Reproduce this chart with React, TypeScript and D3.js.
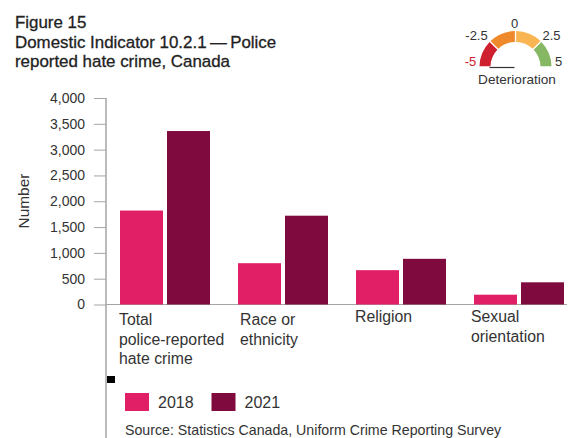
import { useEffect, useRef } from 'react';
import * as d3 from 'd3';

const categories = ['Total', 'Race', 'Religion', 'Sexual'];
const categoryLines = [
  ['Total', 'police-reported', 'hate crime'],
  ['Race or', 'ethnicity'],
  ['Religion'],
  ['Sexual', 'orientation'],
];
const labelOffsets = [-1, 2, -1, -3];
const labelTops = [325, 325, 322, 322];
const years = ['2018', '2021'];
const values2018 = [1820, 800, 665, 190];
const values2021 = [3360, 1720, 885, 430];
const yTicks = [0, 500, 1000, 1500, 2000, 2500, 3000, 3500, 4000];
const titleLines = ['Figure 15', 'Domestic Indicator 10.2.1\u2009\u2014\u2009Police', 'reported hate crime, Canada'];
const gaugeStops = [-5, -2.5, 0, 2.5, 5];
const gaugeColors = ['#cf2030', '#ee8a2c', '#f8b552', '#86b863'];
const gaugeLabels = ['-5', '-2.5', '0', '2.5', '5'];

const FONT = '"Liberation Sans", Arial, sans-serif';
const TEXT = '#333';
const AXIS = '#a5a5a5';
const colors = ['#e01f66', '#7e0a3e'];

export default function App() {
  const svgRef = useRef<SVGSVGElement>(null);

  useEffect(() => {
    const svg = d3.select(svgRef.current);
    svg.selectAll('*').remove();
    svg.attr('font-family', FONT);

    // Title
    svg
      .append('g')
      .selectAll('text')
      .data(titleLines)
      .join('text')
      .attr('x', 15)
      .attr('y', (_, i) => 28 + i * 19.5)
      .attr('font-size', 16.9)
      .attr('stroke', '#222')
      .attr('stroke-width', 0.3)
      .attr('fill', '#222')
      .text((d) => d);

    const x = d3.scaleBand<string>().domain(categories).range([120, 564]).paddingInner(28 / 118);
    const xInner = d3.scaleBand<string>().domain(years).range([0, x.bandwidth()]).paddingInner(4 / 47);
    const y = d3.scaleLinear().domain([0, 4000]).range([304.5, 98]);

    // Y axis, the line carries on down past the zero tick
    const yAxis = svg
      .append('g')
      .attr('transform', 'translate(106,0)')
      .call(
        d3
          .axisLeft(y)
          .tickValues(yTicks)
          .tickSize(12)
          .tickPadding(9)
          .tickFormat(d3.format(','))
      );
    yAxis.select('.domain').remove();
    yAxis.selectAll('.tick line').attr('stroke', AXIS);
    yAxis.selectAll('.tick text').attr('fill', TEXT).attr('font-size', 14).attr('font-family', FONT);

    svg
      .append('line')
      .attr('x1', 106)
      .attr('x2', 106)
      .attr('y1', y(4000))
      .attr('y2', 438)
      .attr('stroke', AXIS)
      .attr('stroke-width', 1.5);
    svg
      .append('line')
      .attr('x1', 106)
      .attr('x2', 567)
      .attr('y1', y(0))
      .attr('y2', y(0))
      .attr('stroke', AXIS);

    svg
      .append('text')
      .attr('transform', 'translate(29,201) rotate(-90)')
      .attr('text-anchor', 'middle')
      .attr('font-size', 15.4)
      .attr('fill', TEXT)
      .text('Number');

    // Bars
    [values2018, values2021].forEach((values, s) => {
      svg
        .append('g')
        .selectAll('rect')
        .data(values)
        .join('rect')
        .attr('x', (_, i) => (x(categories[i]) as number) + (xInner(years[s]) as number))
        .attr('y', (d) => y(d))
        .attr('width', xInner.bandwidth())
        .attr('height', (d) => y(0) - y(d))
        .attr('fill', colors[s]);
    });

    // Category labels
    categoryLines.forEach((lines, i) => {
      svg
        .append('g')
        .selectAll('text')
        .data(lines)
        .join('text')
        .attr('x', (x(categories[i]) as number) + labelOffsets[i])
        .attr('y', (_, j) => labelTops[i] + j * 19.5)
        .attr('font-size', 15.8)
        .attr('fill', TEXT)
        .text((d) => d);
    });

    // Stray black marker on the axis
    svg.append('rect').attr('x', 107).attr('y', 376).attr('width', 8).attr('height', 7).attr('fill', '#000');

    // Legend
    const legend = svg
      .append('g')
      .selectAll('g')
      .data(years)
      .join('g')
      .attr('transform', (_, i) => `translate(${125 + i * 86.5},393)`);
    legend
      .append('rect')
      .attr('width', 24)
      .attr('height', 18)
      .attr('fill', (_, i) => colors[i]);
    legend
      .append('text')
      .attr('x', 33)
      .attr('y', 14.5)
      .attr('font-size', 16)
      .attr('fill', TEXT)
      .text((d) => d);

    svg
      .append('text')
      .attr('x', 125)
      .attr('y', 434.5)
      .attr('font-size', 14.2)
      .attr('fill', TEXT)
      .text('Source: Statistics Canada, Uniform Crime Reporting Survey');

    // Gauge
    const gx = 515.5;
    const gy = 67;
    const angle = d3.scaleLinear().domain([-5, 5]).range([-Math.PI / 2, Math.PI / 2]);
    const arc = d3.arc<number>().innerRadius(25).outerRadius(36).padAngle(0.03);
    const gauge = svg.append('g').attr('transform', `translate(${gx},${gy})`);
    gauge
      .selectAll('path')
      .data(gaugeColors)
      .join('path')
      .attr('fill', (d) => d)
      .attr('d', (_, i) =>
        arc({ startAngle: angle(gaugeStops[i]), endAngle: angle(gaugeStops[i + 1]) } as any)
      );
    gauge
      .append('line')
      .attr('x1', -26)
      .attr('x2', -1)
      .attr('y1', 0.5)
      .attr('y2', 0.5)
      .attr('stroke', '#333')
      .attr('stroke-width', 1.2);

    const gaugeLabelPos = [
      [-45, -1],
      [-39, -27],
      [-1, -39],
      [36, -27],
      [43, -1],
    ];
    gauge
      .selectAll('text.stop')
      .data(gaugeLabels)
      .join('text')
      .attr('class', 'stop')
      .attr('x', (_, i) => gaugeLabelPos[i][0])
      .attr('y', (_, i) => gaugeLabelPos[i][1])
      .attr('text-anchor', 'middle')
      .attr('font-size', 13)
      .attr('fill', (_, i) => (i === 0 ? '#cf2030' : TEXT))
      .text((d) => d);
    gauge
      .append('text')
      .attr('x', 1.5)
      .attr('y', 17)
      .attr('text-anchor', 'middle')
      .attr('font-size', 13.6)
      .attr('fill', TEXT)
      .text('Deterioration');
  }, []);

  return (
    <svg
      ref={svgRef}
      width={582}
      height={438}
      style={{ position: 'absolute', left: 0, top: 0, background: '#fff' }}
    />
  );
}
